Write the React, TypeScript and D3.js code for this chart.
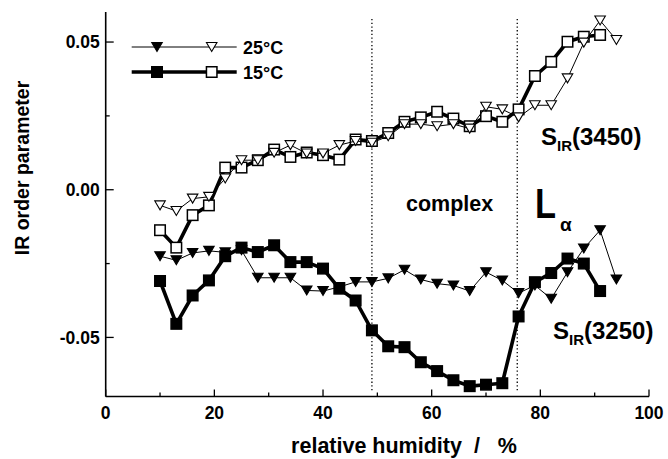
import React from "react";
import * as d3 from "d3";

const rh15 = [10, 13, 16, 19, 22, 25, 28, 31, 34, 37, 40, 43, 46, 49, 52, 55, 58, 61, 64, 67, 70, 73, 76, 79, 82, 85, 88, 91];
const rh25 = [10, 13, 16, 19, 22, 25, 28, 31, 34, 37, 40, 43, 46, 49, 52, 55, 58, 61, 64, 67, 70, 73, 76, 79, 82, 85, 88, 91, 94];

// S_IR(3450)
const s3450_15 = [-0.0137, -0.0196, -0.0086, -0.0053, 0.0075, 0.0075, 0.0100, 0.0136, 0.0111, 0.0126, 0.0117, 0.0102, 0.0170, 0.0165, 0.0192, 0.0230, 0.0245, 0.0264, 0.0241, 0.0215, 0.0249, 0.0230, 0.0272, 0.0385, 0.0433, 0.0501, 0.0518, 0.0524];
const s3450_25 = [-0.0053, -0.0072, -0.0030, -0.0024, 0.0038, 0.0100, 0.0100, 0.0125, 0.0151, 0.0123, 0.0123, 0.0151, 0.0165, 0.0159, 0.0181, 0.0222, 0.0222, 0.0215, 0.0222, 0.0207, 0.0281, 0.0272, 0.0245, 0.0286, 0.0286, 0.0377, 0.0498, 0.0573, 0.0507];
// S_IR(3250)
const s3250_15 = [-0.0309, -0.0454, -0.0358, -0.0307, -0.0225, -0.0196, -0.0211, -0.0188, -0.0245, -0.0245, -0.0267, -0.0335, -0.0375, -0.0476, -0.0530, -0.0533, -0.0584, -0.0614, -0.0645, -0.0665, -0.0660, -0.0655, -0.0429, -0.0313, -0.0282, -0.0233, -0.0250, -0.0343];
const s3250_25 = [-0.0225, -0.0239, -0.0214, -0.0207, -0.0212, -0.0205, -0.0298, -0.0298, -0.0298, -0.0341, -0.0343, -0.0329, -0.0312, -0.0312, -0.0300, -0.0271, -0.0304, -0.0318, -0.0324, -0.0343, -0.0279, -0.0307, -0.0350, -0.0324, -0.0369, -0.0279, -0.0199, -0.0137, -0.0304];

const xMajor = [0, 20, 40, 60, 80, 100];
const xMinor = [10, 30, 50, 70, 90];
const yMajor = [-0.05, 0, 0.05];
const yMinor = [-0.025, 0.025];
const phaseBounds = [49, 75.75];

const FONT = "'Liberation Sans', Arial, Helvetica, sans-serif";

export default function App() {
  const W = 668, H = 459;
  const x = d3.scaleLinear().domain([0, 100]).range([105.7, 649]);
  const y = d3.scaleLinear().domain([-0.07, 0.06]).range([396.5, 12.5]);
  const line = d3.line<[number, number]>().x(d => x(d[0])).y(d => y(d[1]));
  const pts = (xs: number[], ys: number[]) => xs.map((v, i) => [v, ys[i]] as [number, number]);
  const fmtY = (t: number) => d3.format(".2f")(t).replace("\u2212", "-");

  const tri = (cx: number, cy: number, fill: string, key: string, s = 10.5) => {
    const h = s * 0.85;
    return (
      <path key={key} d={`M${cx - s / 2},${cy - h / 2}L${cx + s / 2},${cy - h / 2}L${cx},${cy + h / 2}Z`}
        fill={fill} stroke="#000" strokeWidth={1.1} />
    );
  };
  const sq = (cx: number, cy: number, fill: string, key: string, s = 10.5) => (
    <rect key={key} x={cx - s / 2} y={cy - s / 2} width={s} height={s} fill={fill} stroke="#000" strokeWidth={1.5} />
  );

  const x0 = x(0), y0 = y(-0.07);

  return (
    <div style={{ position: "absolute", left: 0, top: 0 }}>
      <svg width={W} height={H} viewBox={`0 0 ${W} ${H}`} style={{ display: "block", background: "#fff" }} fontFamily={FONT}>
        <rect width={W} height={H} fill="#fff" />
        {/* phase boundaries */}
        {phaseBounds.map((b, i) => (
          <line key={"pb" + i} x1={x(b)} x2={x(b)} y1={19} y2={y0 - 4} stroke="#000" strokeWidth={1.3} strokeDasharray="1.3,2.4" />
        ))}

        {/* 15 C lines */}
        <path d={line(pts(rh15, s3450_15)) || ""} fill="none" stroke="#000" strokeWidth={3.6} strokeLinejoin="round" />
        <path d={line(pts(rh15, s3250_15)) || ""} fill="none" stroke="#000" strokeWidth={3.6} strokeLinejoin="round" />
        {rh15.map((v, i) => sq(x(v), y(s3450_15[i]), "#fff", "os" + i))}
        {rh15.map((v, i) => sq(x(v), y(s3250_15[i]), "#000", "fs" + i))}

        {/* 25 C lines */}
        <path d={line(pts(rh25, s3450_25)) || ""} fill="none" stroke="#000" strokeWidth={1} />
        <path d={line(pts(rh25, s3250_25)) || ""} fill="none" stroke="#000" strokeWidth={1} />
        {rh25.map((v, i) => tri(x(v), y(s3450_25[i]), "#fff", "ot" + i))}
        {rh25.map((v, i) => tri(x(v), y(s3250_25[i]), "#000", "ft" + i))}

        {/* axes */}
        <line x1={x0} x2={x0} y1={12} y2={y0} stroke="#000" strokeWidth={1.6} />
        <line x1={x0} x2={x(100)} y1={y0} y2={y0} stroke="#000" strokeWidth={1.6} />
        {yMajor.map((t, i) => (
          <g key={"ym" + i}>
            <line x1={x0} x2={x0 + 8} y1={y(t)} y2={y(t)} stroke="#000" strokeWidth={1.3} />
            <text x={x0 - 6} y={y(t)} dy="0.36em" textAnchor="end" fontSize={17.5} fontWeight="bold">{fmtY(t)}</text>
          </g>
        ))}
        {yMinor.map((t, i) => (
          <line key={"yn" + i} x1={x0} x2={x0 + 4} y1={y(t)} y2={y(t)} stroke="#000" strokeWidth={1.3} />
        ))}
        {xMajor.map((t, i) => (
          <g key={"xm" + i}>
            <line x1={x(t)} x2={x(t)} y1={y0} y2={y0 - 7} stroke="#000" strokeWidth={1.3} />
            <text x={x(t)} y={y0 + 22} textAnchor="middle" fontSize={17.5} fontWeight="bold">{t}</text>
          </g>
        ))}
        {xMinor.map((t, i) => (
          <line key={"xn" + i} x1={x(t)} x2={x(t)} y1={y0} y2={y0 - 4} stroke="#000" strokeWidth={1.3} />
        ))}

        {/* axis titles */}
        <text x={404} y={453} textAnchor="middle" fontSize={21.5} fontWeight="bold" style={{ whiteSpace: "pre" }}>{"relative humidity  /   %"}</text>
        <text transform="translate(29,168) rotate(-90)" textAnchor="middle" fontSize={19.5} fontWeight="bold">IR order parameter</text>

        {/* legend */}
        <line x1={131.7} x2={236.7} y1={47} y2={47} stroke="#000" strokeWidth={1} />
        {tri(157, 47, "#000", "lt1")}
        {tri(211.7, 47, "#fff", "lt2")}
        <text x={243} y={53.5} fontSize={18} fontWeight="bold">25°C</text>
        <line x1={131.7} x2={236.7} y1={72} y2={72} stroke="#000" strokeWidth={3.6} />
        {sq(157, 72, "#000", "ls1")}
        {sq(211.7, 72, "#fff", "ls2")}
        <text x={243} y={78.5} fontSize={18} fontWeight="bold">15°C</text>

        {/* annotations */}
        <text x={541} y={145} fontSize={24} fontWeight="bold">S<tspan fontSize={15} dy={6}>IR</tspan><tspan dy={-6}>(3450)</tspan></text>
        <text x={553} y={339} fontSize={24} fontWeight="bold">S<tspan fontSize={15} dy={6}>IR</tspan><tspan dy={-6}>(3250)</tspan></text>
        <text x={406} y={210.5} fontSize={21.5} fontWeight="bold">complex</text>
        <text x={535} y={218} fontSize={42} fontWeight="bold" transform="translate(535,0) scale(0.82,1) translate(-535,0)">L</text>
        <text x={560} y={231} fontSize={19} fontWeight="bold">α</text>
      </svg>
    </div>
  );
}
